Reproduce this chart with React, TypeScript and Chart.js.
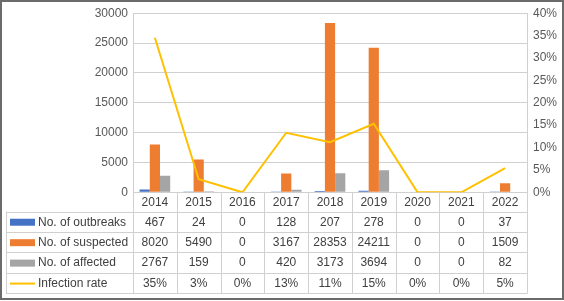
import React, { useEffect, useRef } from "react";
import { Chart, registerables } from "chart.js";

Chart.register(...registerables);

const years = ["2014", "2015", "2016", "2017", "2018", "2019", "2020", "2021", "2022"];
const outbreaks = [467, 24, 0, 128, 207, 278, 0, 0, 37];
const suspected = [8020, 5490, 0, 3167, 28353, 24211, 0, 0, 1509];
const affected = [2767, 159, 0, 420, 3173, 3694, 0, 0, 82];
const infectionRate = [34.5, 2.9, 0, 13.3, 11.2, 15.3, 0, 0, 5.4];
const infectionRateLabels = ["35%", "3%", "0%", "13%", "11%", "15%", "0%", "0%", "5%"];

const seriesNames = ["No. of outbreaks", "No. of suspected", "No. of affected", "Infection rate"];
const colors = ["#4472C4", "#ED7D31", "#A5A5A5", "#FFC000"];

const FONT = "'Liberation Sans', Arial, sans-serif";

const tablePlugin = {
  id: "dataTable",
  afterDraw(chart: any) {
    const ctx = chart.ctx as CanvasRenderingContext2D;
    const area = chart.chartArea;
    const xs = chart.scales.x;
    const n = years.length;
    const colW = (area.right - area.left) / n;
    const headerTop = area.bottom;
    const rowsTop = 211.5;
    const rowH = 20.45;
    const tableLeft = 6;
    const tableBottom = rowsTop + rowH * 4;
    ctx.save();
    ctx.strokeStyle = "#D0D0D0";
    ctx.lineWidth = 1;
    for (let i = 0; i <= n; i++) {
      const x = Math.round(area.left + i * colW) + 0.5;
      ctx.beginPath();
      ctx.moveTo(x, headerTop);
      ctx.lineTo(x, tableBottom);
      ctx.stroke();
    }
    ctx.beginPath();
    ctx.moveTo(tableLeft + 0.5, rowsTop);
    ctx.lineTo(tableLeft + 0.5, tableBottom);
    ctx.stroke();
    for (let r = 0; r <= 4; r++) {
      const y = Math.round(rowsTop + r * rowH) + 0.5;
      ctx.beginPath();
      ctx.moveTo(tableLeft, y);
      ctx.lineTo(area.right + 0.5, y);
      ctx.stroke();
    }
    ctx.font = `12px ${FONT}`;
    ctx.fillStyle = "#404040";
    ctx.textBaseline = "middle";
    ctx.textAlign = "center";
    const headerMid = (headerTop + rowsTop) / 2 + 1;
    for (let i = 0; i < n; i++) {
      ctx.fillText(years[i], xs.getPixelForValue(i), headerMid);
    }
    const rowsData = [
      outbreaks.map(String),
      suspected.map(String),
      affected.map(String),
      infectionRateLabels,
    ];
    for (let r = 0; r < 4; r++) {
      const mid = rowsTop + r * rowH + rowH / 2 + 0.5;
      ctx.textAlign = "center";
      ctx.fillStyle = "#404040";
      for (let i = 0; i < n; i++) {
        ctx.fillText(rowsData[r][i], xs.getPixelForValue(i), mid);
      }
      if (r < 3) {
        ctx.fillStyle = colors[r];
        ctx.fillRect(10, mid - 3.5, 25, 7);
      } else {
        ctx.strokeStyle = colors[r];
        ctx.lineWidth = 2;
        ctx.beginPath();
        ctx.moveTo(10, mid);
        ctx.lineTo(35, mid);
        ctx.stroke();
      }
      ctx.textAlign = "left";
      ctx.fillStyle = "#404040";
      ctx.fillText(seriesNames[r], 38, mid);
    }
    ctx.strokeStyle = "#6B6B6B";
    ctx.lineWidth = 2;
    ctx.strokeRect(1, 1, chart.width - 2, chart.height - 3);
    ctx.restore();
  },
};

export default function App() {
  const ref = useRef<HTMLCanvasElement>(null);
  useEffect(() => {
    document.body.style.margin = "0";
    const canvas = ref.current!;
    const chart = new Chart(canvas, {
      type: "bar",
      data: {
        labels: years,
        datasets: [
          {
            type: "line",
            label: seriesNames[3],
            data: infectionRate,
            yAxisID: "y1",
            borderColor: colors[3],
            backgroundColor: colors[3],
            borderWidth: 2,
            pointRadius: 0,
            tension: 0,
            order: 0,
          } as any,
          { label: seriesNames[0], data: outbreaks, backgroundColor: colors[0], yAxisID: "y", order: 1 },
          { label: seriesNames[1], data: suspected, backgroundColor: colors[1], yAxisID: "y", order: 1 },
          { label: seriesNames[2], data: affected, backgroundColor: colors[2], yAxisID: "y", order: 1 },
        ],
      },
      options: {
        responsive: false,
        animation: false,
        devicePixelRatio: 1,
        layout: { padding: { left: 0, right: 0, top: 12.7, bottom: 108.7 } },
        datasets: { bar: { categoryPercentage: 0.7, barPercentage: 1 } },
        plugins: { legend: { display: false }, tooltip: { enabled: false } },
        scales: {
          x: { display: false, offset: true },
          y: {
            position: "left",
            min: 0,
            max: 30000,
            ticks: {
              stepSize: 5000,
              color: "#595959",
              font: { size: 12, family: FONT },
              padding: 5,
              callback: (v: any) => String(v),
            },
            grid: { color: "#D0D0D0", drawTicks: false },
            border: { display: true, color: "#D0D0D0" },
            afterFit: (s: any) => {
              s.width = 133;
            },
          },
          y1: {
            position: "right",
            min: 0,
            max: 40,
            ticks: {
              stepSize: 5,
              color: "#595959",
              font: { size: 12, family: FONT },
              padding: 6,
              callback: (v: any) => v + "%",
            },
            grid: { display: false, drawTicks: false },
            border: { display: true, color: "#D0D0D0" },
            afterFit: (s: any) => {
              s.width = 37;
            },
          },
        },
      },
      plugins: [tablePlugin],
    });
    return () => chart.destroy();
  }, []);
  return (
    <div style={{ width: 564, height: 301, background: "#fff" }}>
      <canvas ref={ref} width={564} height={301} />
    </div>
  );
}
